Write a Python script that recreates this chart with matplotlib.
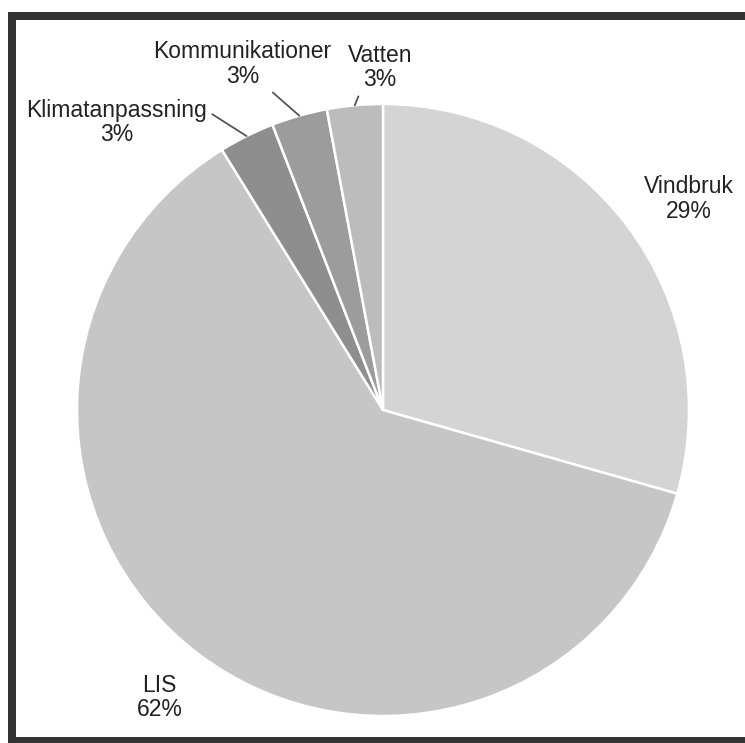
import numpy as np
import matplotlib
matplotlib.use("Agg")
import matplotlib.pyplot as plt
from matplotlib.lines import Line2D

# ------------- data ------------------------------- #
categories = ["Vindbruk", "LIS", "Klimatanpassning", "Kommunikationer", "Vatten"]
counts = [10, 21, 1, 1, 1]
colors = ["#d4d4d4", "#c6c6c6", "#8e8e8e", "#9c9c9c", "#bcbcbc"]

# label positions (data units, pie radius = 1) and where the leader line leaves the text
label_pos = [(1.0, 0.69), (-0.73, -0.94), (-0.87, 0.94), (-0.46, 1.13), (-0.01, 1.12)]
leader_rel = [None, None, (1.0, 0.74), (0.6, 0.14), (0.2, 0.0)]

plt.rcParams['font.family'] = ['Liberation Sans', 'DejaVu Sans']

fig = plt.figure(figsize=(7.45, 7.43), dpi=100)
W, H = 745, 743
cx, cy, r = 383, 410, 306
ax = fig.add_axes([(cx - r) / W, 1 - (cy + r) / H, 2 * r / W, 2 * r / H])

wedges, _ = ax.pie(counts, colors=colors, startangle=90, counterclock=False,
                   radius=1, center=(0, 0), frame=False,
                   wedgeprops=dict(edgecolor='white', linewidth=1.8))
ax.set_xlim(-1, 1)
ax.set_ylim(-1, 1)
ax.set_aspect('auto')
ax.axis('off')

total = sum(counts)
for w, name, n, pos, rel in zip(wedges, categories, counts, label_pos, leader_rel):
    pct = round(100 * n / total)
    txt = f"{name}\n{pct}%"
    if rel is None:
        ax.text(pos[0], pos[1], txt, ha='center', va='center', fontsize=16.5,
                color='#222222', linespacing=1.08)
    else:
        mid = np.deg2rad((w.theta1 + w.theta2) / 2)
        ax.annotate(txt, xy=(np.cos(mid), np.sin(mid)), xytext=pos,
                    ha='center', va='center', fontsize=16.5, color='#222222',
                    linespacing=1.08, annotation_clip=False,
                    arrowprops=dict(arrowstyle='-', color='#555555', lw=1.3,
                                    relpos=rel, shrinkA=2, shrinkB=0))

# ---------- dark frame round the chart ----------------------- #
fc = '#333333'
lw = 8 * 72 / 100
fig.add_artist(Line2D([12 / W, 12 / W], [1 - 12 / H, 0.0], color=fc, lw=lw,
                      transform=fig.transFigure, solid_capstyle='butt'))
fig.add_artist(Line2D([8 / W, 1.0], [1 - 16 / H, 1 - 16 / H], color=fc, lw=lw,
                      transform=fig.transFigure, solid_capstyle='butt'))
fig.add_artist(Line2D([8 / W, 1.0], [1 - 741 / H, 1 - 741 / H], color=fc, lw=lw,
                      transform=fig.transFigure, solid_capstyle='butt'))

fig.savefig("out.png", dpi=100, facecolor='white')
